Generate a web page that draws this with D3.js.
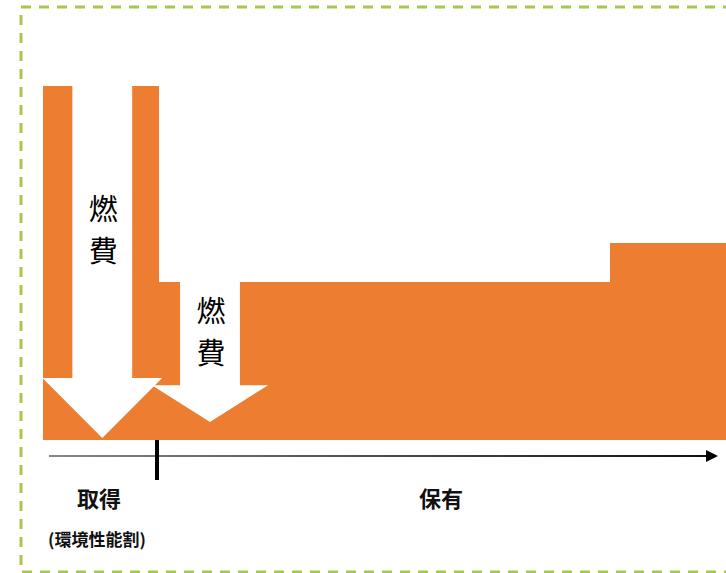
<!DOCTYPE html>
<html>
<head>
<meta charset="utf-8">
<script src="https://cdn.jsdelivr.net/npm/d3@7"></script>
<style>
  html, body { margin: 0; padding: 0; background: #fff; }
  svg { display: block; }
</style>
</head>
<body>
<svg id="chart" width="726" height="573"></svg>
<script>
// Periods along the time axis
const periods = ['取得', '保有'];
const periodStarts = [0, 2];
const periodEnds = [2, 12];
const subLabels = ['(環境性能割)', ''];

// Tax level steps
const stepStarts = [0, 2.03, 9.95];
const stepEnds = [2.03, 9.95, 12];
const taxLevels = [100, 44.6, 55.6];

// Fuel economy relief arrows
const reliefLabels = ['燃費', '燃費'];
const reliefAt = [1.04, 2.93];
const reliefFrom = [100, 44.6];
const reliefHead = [17.5, 15.5];
const reliefTo = [0.6, 5.1];

const orange = '#ED7D31';
const green = '#A8C84C';

const svg = d3.select('#chart');

const x = d3.scaleLinear().domain([0, 12]).range([43, 727]);
const y = d3.scaleLinear().domain([0, 100]).range([440, 86]);

// dashed frame
svg.append('rect')
  .attr('x', 21)
  .attr('y', 7)
  .attr('width', 740)
  .attr('height', 565)
  .style('fill', 'none')
  .style('stroke', green)
  .style('stroke-width', 3)
  .style('stroke-dasharray', '10,8');

// orange steps, drawn as one outline so there are no seams
const stepArea = d3.area()
  .curve(d3.curveStepAfter)
  .x(d => x(d.s))
  .y0(y(0))
  .y1(d => y(d.v));
const steps = stepStarts.map((s, i) => ({ s, v: taxLevels[i] }));
steps.push({ s: stepEnds[stepEnds.length - 1], v: taxLevels[taxLevels.length - 1] });
svg.append('path')
  .datum(steps)
  .attr('d', stepArea)
  .style('fill', orange)
  .style('shape-rendering', 'crispEdges');

// white arrows
const shaftW = 1.05;
const headW = [2.1, 2.04];
const arrows = reliefAt.map((c, i) => ({
  c, from: reliefFrom[i], head: reliefHead[i], to: reliefTo[i], hw: headW[i], label: reliefLabels[i]
}));

svg.append('g')
  .selectAll('path')
  .data(arrows)
  .join('path')
  .attr('d', d => {
    const pts = [
      [x(d.c - shaftW / 2), y(d.from)],
      [x(d.c + shaftW / 2), y(d.from)],
      [x(d.c + shaftW / 2), y(d.head)],
      [x(d.c + d.hw / 2), y(d.head)],
      [x(d.c), y(d.to)],
      [x(d.c - d.hw / 2), y(d.head)],
      [x(d.c - shaftW / 2), y(d.head)]
    ];
    return 'M' + pts.map(p => p.join(',')).join('L') + 'Z';
  })
  .style('fill', '#fff');

// arrow labels, stacked vertically in the shaft
arrows.forEach(d => {
  const mid = (y(d.from) + y(d.head)) / 2;
  const chars = d.label.split('');
  const gap = 42;
  chars.forEach((ch, j) => {
    svg.append('text')
      .attr('x', x(d.c) + 1)
      .attr('y', mid + (j - (chars.length - 1) / 2) * gap - 4)
      .attr('text-anchor', 'middle')
      .attr('dominant-baseline', 'central')
      .style('font-family', '"Noto Sans CJK JP", sans-serif')
      .style('font-size', '29px')
      .style('fill', '#000')
      .text(ch);
  });
});

// time axis with arrow head
const axisY = 456;
const defs = svg.append('defs');
const grad = defs.append('linearGradient').attr('id', 'axisGrad');
grad.append('stop').attr('offset', '0%').attr('stop-color', '#888');
grad.append('stop').attr('offset', '100%').attr('stop-color', '#111');

svg.append('rect')
  .attr('x', 49)
  .attr('y', axisY - 1)
  .attr('width', 708 - 49)
  .attr('height', 2)
  .style('fill', 'url(#axisGrad)');
svg.append('path')
  .attr('d', `M706,${axisY - 6}L718,${axisY}L706,${axisY + 6}Z`)
  .style('fill', '#000');

// boundary tick between periods
svg.append('rect')
  .attr('x', x(periodEnds[0]) - 2)
  .attr('y', 440)
  .attr('width', 4)
  .attr('height', 40)
  .style('fill', '#000');

// period labels
const labelG = svg.append('g');
periods.forEach((p, i) => {
  const cx = x((periodStarts[i] + periodEnds[i]) / 2);
  labelG.append('text')
    .attr('x', cx - 1)
    .attr('y', 507)
    .attr('text-anchor', 'middle')
    .style('font-family', '"Noto Sans CJK JP", sans-serif')
    .style('font-weight', 'bold')
    .style('font-size', '22px')
    .style('fill', '#111')
    .text(p);
  if (subLabels[i]) {
    labelG.append('text')
      .attr('x', cx - 3)
      .attr('y', 546)
      .attr('text-anchor', 'middle')
      .style('font-family', '"Noto Sans CJK JP", sans-serif')
      .style('font-weight', 'bold')
      .style('font-size', '17px')
      .style('fill', '#111')
      .text(subLabels[i]);
  }
});
</script>
</body>
</html>
